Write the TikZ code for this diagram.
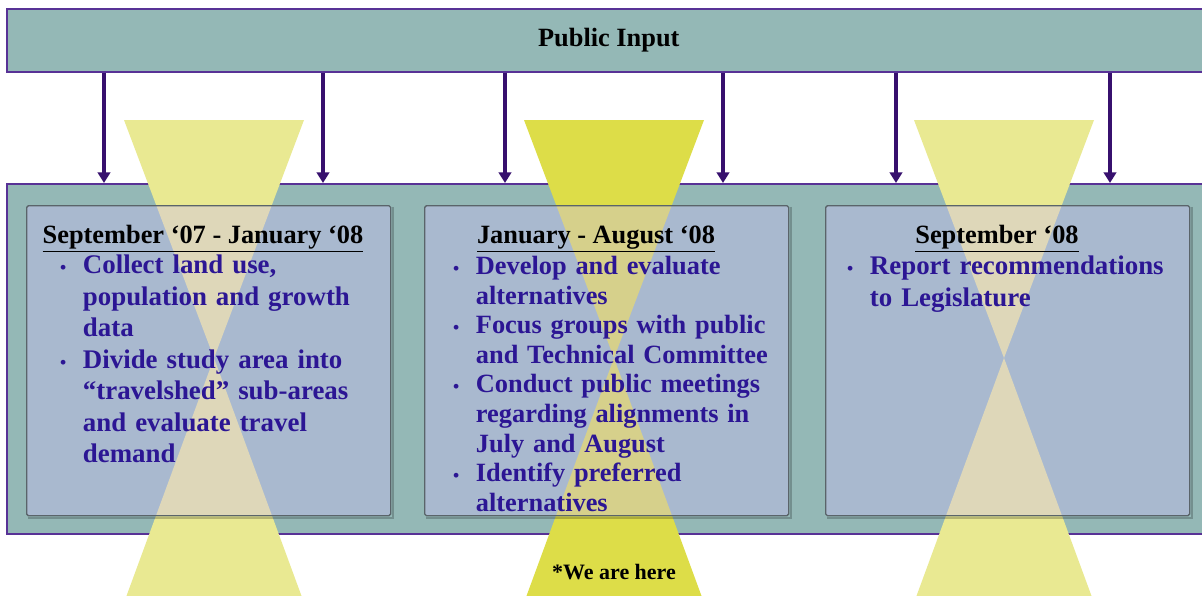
\documentclass[tikz,border=0pt]{standalone}
\usepackage{fontspec}
\setmainfont{Liberation Serif}
\usetikzlibrary{arrows.meta,positioning}
\definecolor{panelteal}{RGB}{148,184,182}
\definecolor{edgepurple}{RGB}{88,50,150}
\definecolor{arrowpurple}{RGB}{55,16,110}
\definecolor{paleyellow}{RGB}{233,233,146}
\definecolor{brightyellow}{RGB}{221,221,72}
\definecolor{boxblue}{RGB}{205,188,250}
\definecolor{boxedge}{RGB}{90,100,106}
\definecolor{itemblue}{RGB}{44,22,148}
\newcommand{\pitem}[1]{\par\hangindent=14pt\hangafter=1\noindent\makebox[14pt][l]{\hspace{1pt}\fontsize{10}{10}\selectfont\textbullet}#1\par}
\tikzset{
  band/.style={draw=edgepurple, line width=0.9pt, fill=panelteal, anchor=north west, inner sep=0pt, minimum width=240.8mm},
  stagebox/.style={draw=boxedge, line width=0.8pt, rounded corners=1pt, fill=boxblue, fill opacity=0.38, anchor=north west, minimum width=72.8mm, minimum height=62mm},
  boxshade/.style={draw=black, draw opacity=0.22, line width=1pt},
  stagehead/.style={anchor=base, inner sep=0pt, font=\fontsize{15}{17}\selectfont\bfseries},
  stagelist/.style={anchor=north west, inner sep=0pt, text width=80mm, align=left, text=itemblue, font=\fontsize{15.3}{17.9}\selectfont\bfseries},
  feedarrow/.style={draw=arrowpurple, line width=2.3pt, -{Triangle[width=7pt,length=6pt]}}
}
\begin{document}
\begin{tikzpicture}[x=0.2mm, y=-0.2mm]
  \useasboundingbox (0,0) rectangle (1202,595);
  \clip (0,0) rectangle (1202,595);
  \fill[white] (0,0) rectangle (1202,595);
  \node[band, minimum height=12.6mm, font=\fontsize{15}{18}\selectfont\bfseries] (input) at (6,8) {Public Input};
  \node[band, minimum height=70mm] (stages) at (6,183) {};
  \foreach \ax in {104,323,505,723,896,1110}
    \draw[feedarrow] (input.south -| \ax,0) -- (stages.north -| \ax,0);
  \foreach \cx/\tone in {214/paleyellow,614/brightyellow,1004/paleyellow}
    \fill[\tone] (\cx-90,120) -- (\cx+90,120) -- (\cx,358) -- (\cx+89,600) -- (\cx-89,600) -- (\cx,358) -- cycle;
  \node[stagebox] (early) at (26,205) {};
  \node[stagebox] (mid) at (424,205) {};
  \node[stagebox] (late) at (825,205) {};
  \foreach \b in {early,mid,late}
    \draw[boxshade] ([shift={(1pt,-1pt)}]\b.north east) |- ([shift={(1pt,-1pt)}]\b.south west);
  \node[stagehead] (earlyhead) at (203,243) {\underline{September ‘07 - January ‘08}};
  \node[stagehead] (midhead) at (596,243) {\underline{January - August ‘08}};
  \node[stagehead] (latehead) at (997,243) {\underline{September ‘08}};
  \node[stagelist] (earlylist) at (58,242) {%
    \pitem{Collect land use,\newline population and growth\newline data}
    \pitem{Divide study area into\newline “travelshed” sub-areas\newline and evaluate travel\newline demand}};
  \node[stagelist, font=\fontsize{15}{16.8}\selectfont\bfseries] (midlist) at (451,245) {%
    \pitem{Develop and evaluate\newline alternatives}
    \pitem{Focus groups with public\newline and Technical Committee}
    \pitem{Conduct public meetings\newline regarding alignments in\newline July and August}
    \pitem{Identify preferred\newline alternatives}};
  \node[stagelist, font=\fontsize{15.3}{18.2}\selectfont\bfseries] (latelist) at (845,242) {%
    \pitem{Report recommendations\newline to Legislature}};
  \node[font=\fontsize{12.5}{15}\selectfont\bfseries] (here) at (614,572) {*We are here};
\end{tikzpicture}
\end{document}
